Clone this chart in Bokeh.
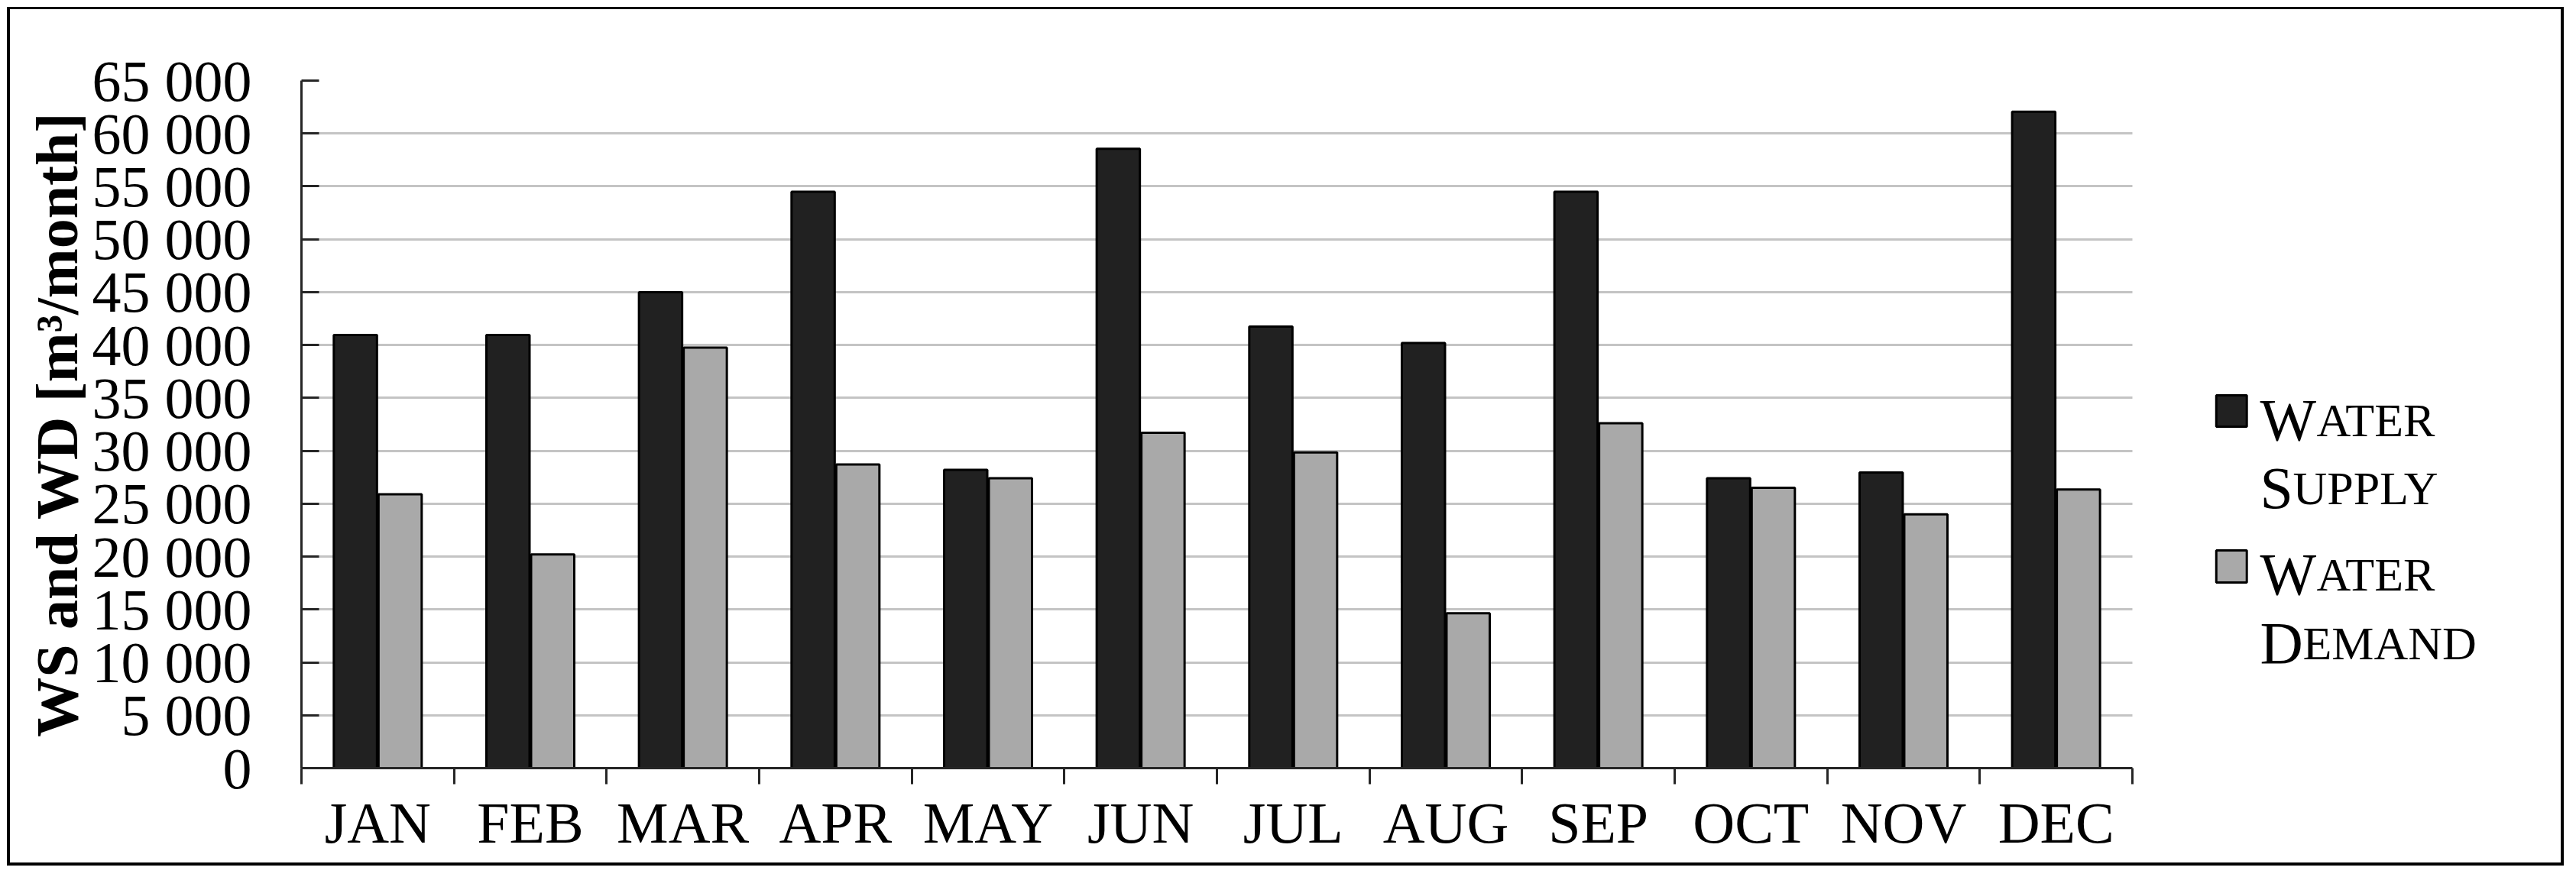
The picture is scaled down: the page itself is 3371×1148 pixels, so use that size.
from bokeh.plotting import figure
from bokeh.models import Range1d, FixedTicker, ColumnDataSource, Grid
from bokeh.transform import dodge
from bokeh.core.properties import value
from bokeh.embed import file_html
from bokeh.resources import INLINE

# ---- data ----
months = ["JAN", "FEB", "MAR", "APR", "MAY", "JUN", "JUL", "AUG", "SEP", "OCT", "NOV", "DEC"]
water_supply = [40950, 40950, 45000, 54500, 28200, 58550, 41750, 40200, 54500, 27400, 27950, 62050]
water_demand = [25900, 20200, 39750, 28700, 27400, 31700, 29850, 14650, 32600, 26500, 24000, 26350]
y_ticks = [0, 5000, 10000, 15000, 20000, 25000, 30000, 35000, 40000, 45000, 50000, 55000, 60000, 65000]
y_tick_labels = ["0", "5 000", "10 000", "15 000", "20 000", "25 000", "30 000",
                 "35 000", "40 000", "45 000", "50 000", "55 000", "60 000", "65 000"]
y_title = "WS and WD [m\u00b3/month]"
series_names = [("W", "ATER", "S", "UPPLY"), ("W", "ATER", "D", "EMAND")]  # small-caps legend text

FONT = "Liberation Serif"
SUPPLY_COLOR = "#212121"
DEMAND_COLOR = "#a9a9a9"
AXIS_COLOR = "#262626"
GRID_COLOR = "#c4c4c4"

n = len(months)
centers = [i + 0.5 for i in range(n)]
boundaries = [float(i) for i in range(n + 1)]

src = ColumnDataSource(dict(x=centers, supply=water_supply, demand=water_demand, month=months))

p = figure(width=3346, height=1124,
           x_range=Range1d(0, 14.85), y_range=Range1d(0, 65000),
           output_backend="svg", toolbar_location=None,
           min_border_left=381, min_border_right=0,
           min_border_top=93, min_border_bottom=131)
p.styles = {"border-style": "solid", "border-color": "black",
            "border-width": "3px 4px 4px 4px",
            "margin-left": "9px", "margin-top": "9px"}
p.background_fill_color = "white"
p.border_fill_color = "white"
p.outline_line_color = None

# grid (horizontal lines only over the category area)
yt = FixedTicker(ticks=y_ticks)
p.xgrid.visible = False
if "cross_bounds" in Grid.properties():
    p.ygrid.ticker = yt
    p.ygrid.cross_bounds = (0, n)
    p.ygrid.grid_line_color = GRID_COLOR
    p.ygrid.grid_line_width = 3
else:
    p.ygrid.visible = False
    p.segment(x0=[0] * len(y_ticks), x1=[n] * len(y_ticks), y0=y_ticks, y1=y_ticks,
              line_color=GRID_COLOR, line_width=3)

# y axis
ya = p.yaxis[0]
ya.ticker = yt
ya.major_label_overrides = {t: l for t, l in zip(y_ticks, y_tick_labels)}
ya.major_tick_in = 23
ya.major_tick_out = 0
ya.minor_tick_in = 0
ya.minor_tick_out = 0
ya.major_tick_line_width = 3
ya.major_tick_line_color = AXIS_COLOR
ya.axis_line_width = 3
ya.axis_line_color = AXIS_COLOR
ya.major_label_standoff = 65
ya.major_label_text_font = FONT
ya.major_label_text_font_size = "76px"
ya.major_label_text_color = "black"
ya.axis_label = y_title
ya.axis_label_text_font = FONT
ya.axis_label_text_font_size = "78px"
ya.axis_label_text_font_style = "bold"
ya.axis_label_text_color = "black"
ya.axis_label_standoff = 0

# x axis: labels at category centres, tick marks at category boundaries
xa = p.xaxis[0]
xa.ticker = FixedTicker(ticks=centers, minor_ticks=boundaries)
xa.bounds = (0, n)
xa.major_label_overrides = {c: m for c, m in zip(centers, months)}
xa.major_tick_in = 0
xa.major_tick_out = 0
xa.minor_tick_in = 0
xa.minor_tick_out = 21
xa.minor_tick_line_width = 3
xa.minor_tick_line_color = AXIS_COLOR
xa.axis_line_width = 3
xa.axis_line_color = AXIS_COLOR
xa.major_label_standoff = 8
xa.major_label_text_font = FONT
xa.major_label_text_font_size = "76px"
xa.major_label_text_color = "black"

# bars
BW = 0.283
p.vbar(x=dodge("x", -0.1465, range=p.x_range), top="supply", width=BW, source=src,
       fill_color=SUPPLY_COLOR, line_color="black", line_width=3)
p.vbar(x=dodge("x", 0.1465, range=p.x_range), top="demand", width=BW, source=src,
       fill_color=DEMAND_COLOR, line_color="black", line_width=3)

# legend (drawn inside the extended frame so that small caps can be used)
p.quad(left=[12.55, 12.55], right=[12.75, 12.75], top=[35244, 20583], bottom=[32283, 17550],
       fill_color=[SUPPLY_COLOR, DEMAND_COLOR], line_color="black", line_width=3)

LX = 12.836
big_txt, big_y, small_txt, small_y = [], [], [], []
line_y = [(32930, 26500), (18340, 11840)]
for (a1, r1, a2, r2), (y1, y2) in zip(series_names, line_y):
    big_txt += [a1, a2]
    big_y += [y1, y2]
    small_txt += [r1, r2]
    small_y += [y1, y2]
offsets = {"W": 74, "S": 43, "D": 56}
small_off = [offsets[t] for t in big_txt]

p.text(x=[LX] * len(big_txt), y=big_y, text=big_txt, text_font=value(FONT),
       text_font_size="78px", text_color="black", text_baseline="alphabetic", text_align="left")
p.text(x=[LX] * len(small_txt), y=small_y, text=small_txt, x_offset=small_off,
       text_font=value(FONT), text_font_size="62px", text_color="black",
       text_baseline="alphabetic", text_align="left")

open("out.html", "w").write(file_html(p, INLINE))
